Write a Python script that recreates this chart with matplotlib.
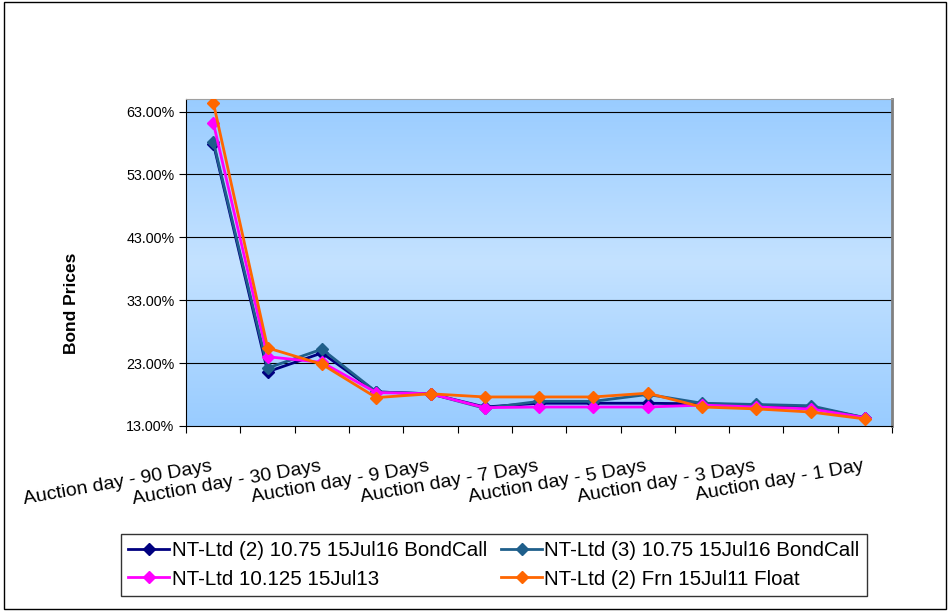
import matplotlib.pyplot as plt
import numpy as np
from matplotlib.patches import Rectangle

plt.rcParams['font.family'] = ['Liberation Sans', 'DejaVu Sans']

# categories (only every second one gets a visible label)
categories = ["Auction day - 90 Days", "Auction day - 60 Days", "Auction day - 30 Days",
              "Auction day - 14 Days", "Auction day - 9 Days", "Auction day - 8 Days",
              "Auction day - 7 Days", "Auction day - 6 Days", "Auction day - 5 Days",
              "Auction day - 4 Days", "Auction day - 3 Days", "Auction day - 2 Days",
              "Auction day - 1 Day"]

# bond prices in percent
bond_2_call = [57.9, 21.6, 24.6, 18.4, 18.1, 16.0, 16.6, 16.6, 16.6, 16.5, 16.3, 16.0, 14.3]
bond_3_call = [58.2, 22.2, 25.2, 18.4, 18.1, 15.8, 16.9, 16.9, 18.0, 16.6, 16.4, 16.2, 14.3]
bond_10125 = [61.2, 24.0, 23.1, 18.3, 18.1, 15.9, 16.0, 16.0, 16.0, 16.3, 16.0, 15.7, 14.3]
bond_frn = [64.4, 25.4, 22.8, 17.5, 18.1, 17.6, 17.6, 17.6, 18.2, 16.0, 15.7, 15.2, 14.1]

series_names = ["NT-Ltd (2) 10.75 15Jul16 BondCall", "NT-Ltd (3) 10.75 15Jul16 BondCall",
                "NT-Ltd 10.125 15Jul13", "NT-Ltd (2) Frn 15Jul11 Float"]
series_colors = ["#000080", "#1F5F8B", "#FF00FF", "#FF6600"]
y_ticks = [13, 23, 33, 43, 53, 63]

fig = plt.figure(figsize=(9.5, 6.11), dpi=100)
fig.patch.set_facecolor("white")
fig.add_artist(Rectangle((0.004, 0.004), 0.992, 0.992, transform=fig.transFigure,
                         fill=False, edgecolor="black", linewidth=1))

ax = fig.add_axes([0.196, 0.303, 0.743, 0.535])
x = np.arange(len(categories))

# vertical gradient background like the Excel plot area
grad = np.abs(np.linspace(-1, 1, 256)).reshape(-1, 1)
top = np.array([0x99, 0xCC, 0xFF]) / 255
mid = np.array([0xC4, 0xE2, 0xFF]) / 255
img = mid + (top - mid) * grad[..., None]
ax.imshow(img, extent=[-0.5, len(categories) - 0.5, 13, 65], aspect="auto", zorder=0)

for yt in y_ticks[1:]:
    ax.axhline(yt, color="black", linewidth=0.8, zorder=1)

lines = []
for vals, name, col in zip([bond_2_call, bond_3_call, bond_10125, bond_frn], series_names, series_colors):
    ln, = ax.plot(x, vals, color=col, marker="D", markersize=6.5, linewidth=2, label=name, zorder=3)
    lines.append(ln)

ax.set_xlim(-0.5, len(categories) - 0.5)
ax.set_ylim(13, 65)
ax.set_yticks(y_ticks)
ax.set_yticklabels([f"{v:.2f}%" for v in y_ticks], fontsize=10.3)
ax.set_xticks(np.arange(len(categories) + 1) - 0.5)
ax.set_xticklabels([])
ax.tick_params(axis="x", direction="out", length=5)
ax.tick_params(axis="y", direction="out", length=5)

for i, lab in enumerate(categories):
    if i % 2 == 0:
        ax.text(i - 0.05, 7.9, lab, rotation=10, rotation_mode="anchor", ha="right", va="top", fontsize=14)

ax.spines["top"].set_color("#A0A0A0")
ax.spines["right"].set_color("#808080")
ax.spines["right"].set_linewidth(2)
ax.spines["left"].set_color("black")
ax.spines["bottom"].set_color("black")

fig.text(71 / 950, 0.503, "Bond Prices", rotation=90, ha="center", va="center",
         fontsize=12.5, fontweight="bold")

# Excel fills the legend row by row
order = [0, 2, 1, 3]
leg = fig.legend([lines[k] for k in order], [series_names[k] for k in order],
                 loc="center", bbox_to_anchor=(494 / 950, 1 - 565 / 611), ncol=2, fontsize=14.8,
                 frameon=True, fancybox=False, edgecolor="black", handlelength=2.0,
                 columnspacing=0.7, handletextpad=0.1, borderpad=0.35, labelspacing=0.45)
leg.get_frame().set_linewidth(1)

fig.savefig("out.png", dpi=100)
